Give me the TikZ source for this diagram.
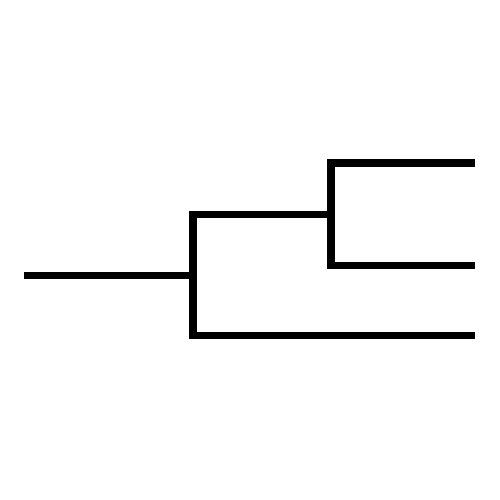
\documentclass[tikz,border=0pt]{standalone}
\usepackage{tikz}

\begin{document}
\begin{tikzpicture}[line width = 4.3pt, line join = miter]

	% Definitions
	
	\def\xo{3.86}		% Outer split x, y coordinates
	\def\yo{4.49}
	
	\def\xs{6.62}		% Inner split x coordinate
	\def\xe{9.50}		% Leaf ends
	
	\useasboundingbox (0, 0) rectangle (10, 10);
	
	% Named points
	
	\coordinate (root) at (0.48, \yo);
	\coordinate (outer) at (\xo, \yo);
	\coordinate (outertop) at (\xo, 5.71);
	\coordinate (outerbot) at (\xo, 3.29);
	\coordinate (inner) at (\xs, 5.71);
	\coordinate (innertop) at (\xs, 6.74);
	\coordinate (innerbot) at (\xs, 4.69);
	\coordinate (leafa) at (\xe, 6.74);
	\coordinate (leafb) at (\xe, 4.69);
	\coordinate (leafc) at (\xe, 3.29);
	
	% Draw tree
	
	\draw (root) -- (outer);
	\draw (inner) -- (outertop) -- (outerbot) -- (leafc);
	\draw (leafa) -- (innertop) -- (innerbot) -- (leafb);
	
\end{tikzpicture}
\end{document}
